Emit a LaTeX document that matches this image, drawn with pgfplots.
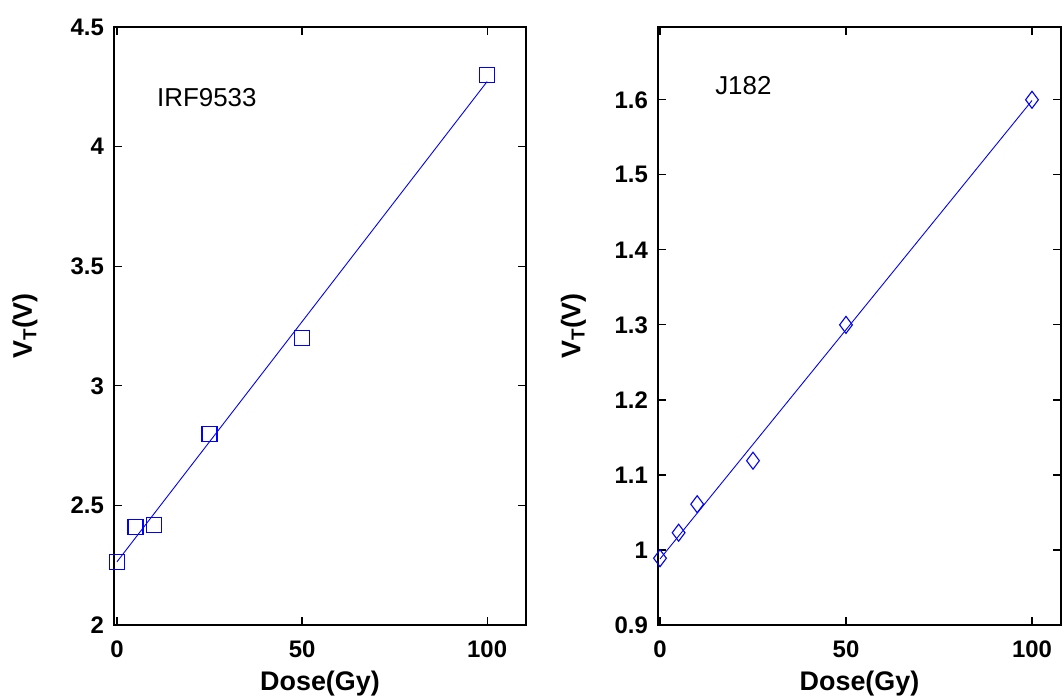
\documentclass[border=0pt]{standalone}
\usepackage{fontspec}
\setmainfont{Liberation Sans}
\usepackage{pgfplots}
\pgfplotsset{compat=1.18}
\definecolor{mblue}{RGB}{0,0,255}
\begin{document}
\begin{tikzpicture}
\pgfplotsset{
 every axis/.append style={
  scale only axis, height=598bp,
  axis line style={line width=1.5bp},
  every tick/.style={line width=1.2bp, black},
  major tick length=8bp, tick align=inside,
  /pgf/number format/assume math mode=true,
  ticklabel style={font=\bfseries\fontsize{24}{24}\selectfont},
  xticklabel style={anchor=base, yshift=-32bp, inner sep=0pt},
  yticklabel style={anchor=east, xshift=-10bp, inner sep=0pt},
  label style={font=\bfseries\fontsize{27}{27}\selectfont},
  xlabel style={at={(axis description cs:0.5,-0.1087)}, anchor=base, inner sep=0pt},
  xtick={0,50,100},
  xlabel={Dose(Gy)},
  ylabel={V\textsubscript{T}(V)},
 }
}
\path (-114bp,-70bp) rectangle (948bp,625bp);
\begin{axis}[at={(0bp,0bp)}, anchor=south west, width=412bp,
  xmin=-0.8, xmax=110.5, ymin=2, ymax=4.5,
  ytick={2,2.5,3,3.5,4,4.5},
  yticklabels={2,2.5,3,3.5,4,4.5},
  ylabel style={at={(axis description cs:-0.216,0.5)}, anchor=center},
]
\addplot[mblue, line width=0.9bp] coordinates {(0,2.264) (100,4.272)};
\addplot[mblue, only marks, mark=square, mark size=7.5bp, mark options={line width=1.2bp}] coordinates {
(0,2.265) (5,2.41) (10,2.418) (25,2.80) (50,3.20) (100,4.30)};
\node[anchor=base west, font=\fontsize{26}{26}\selectfont, inner sep=0pt] at (axis cs:10.8,4.166) {IRF9533};
\end{axis}
\begin{axis}[at={(544bp,0bp)}, anchor=south west, width=403bp,
  xmin=-0.54, xmax=107.8, ymin=0.9, ymax=1.697,
  ytick={0.9,1,1.1,1.2,1.3,1.4,1.5,1.6},
  yticklabels={0.9,1,1.1,1.2,1.3,1.4,1.5,1.6},
  ylabel style={at={(axis description cs:-0.21,0.5)}, anchor=center},
]
\addplot[mblue, line width=0.9bp] coordinates {(0,0.988) (100,1.599)};
\addplot[mblue, only marks, mark=diamond, mark size=8.5bp, mark options={line width=1.1bp}] coordinates {
(0,0.989) (5,1.023) (10,1.061) (25,1.119) (50,1.30) (100,1.60)};
\node[anchor=base west, font=\fontsize{26}{26}\selectfont, inner sep=0pt] at (axis cs:14.8,1.607) {J182};
\end{axis}
\end{tikzpicture}
\end{document}
